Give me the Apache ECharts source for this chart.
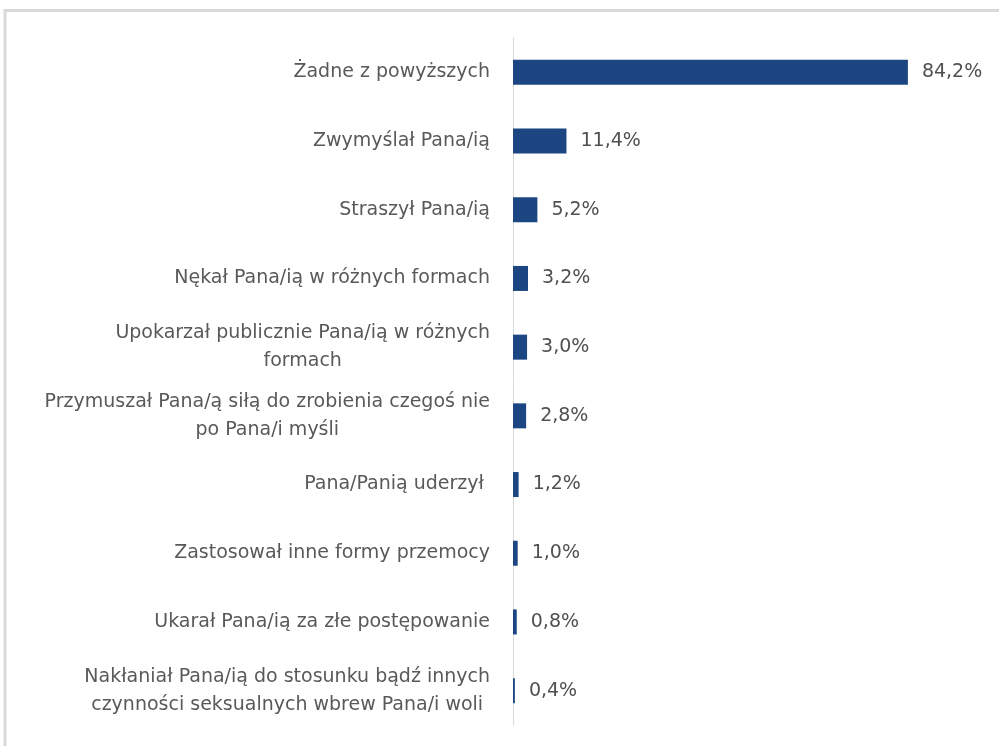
<!DOCTYPE html>
<html>
<head>
<meta charset="utf-8">
<script src="https://cdn.jsdelivr.net/npm/echarts@6/dist/echarts.min.js"></script>
<style>
  html, body { margin: 0; padding: 0; background: #fff; }
  #chart { width: 999px; height: 746px; }
</style>
</head>
<body>
<div id="chart"></div>
<script>
// categories top to bottom, wrapped the same way as in the source chart
const categories = [
  "Żadne z powyższych",
  "Zwymyślał Pana/ią",
  "Straszył Pana/ią",
  "Nękał Pana/ią w różnych formach",
  "Upokarzał publicznie Pana/ią w różnych\nformach",
  "Przymuszał Pana/ą siłą do zrobienia czegoś nie\npo Pana/i myśli",
  "Pana/Panią uderzył ",
  "Zastosował inne formy przemocy",
  "Ukarał Pana/ią za złe postępowanie",
  "Nakłaniał Pana/ią do stosunku bądź innych\nczynności seksualnych wbrew Pana/i woli"
];
const values = [84.2, 11.4, 5.2, 3.2, 3.0, 2.8, 1.2, 1.0, 0.8, 0.4];

const FONT = "'DejaVu Sans', sans-serif";
const chart = echarts.init(document.getElementById("chart"));

chart.setOption({
  animation: false,
  backgroundColor: "#fff",
  graphic: [{
    type: "rect",
    shape: { x: 5, y: 10.5, width: 1100, height: 800 },
    style: { fill: "none", stroke: "#d9d9d9", lineWidth: 3 },
    silent: true
  }],
  grid: { left: 513, right: 17, top: 38, bottom: 21 },
  xAxis: {
    type: "value",
    min: 0,
    max: 100,
    show: false
  },
  yAxis: {
    type: "category",
    inverse: true,
    data: categories,
    axisLine: { show: true, lineStyle: { color: "#d9d9d9", width: 1 } },
    axisTick: { show: false },
    axisLabel: {
      margin: 23,
      align: "right",
      fontFamily: FONT,
      fontSize: 19,
      color: "#595959",
      lineHeight: 28,
      formatter: (v) => v.split("\n").map((l) => "{c|" + l + "}").join("\n"),
      rich: {
        c: { align: "center", fontFamily: FONT, fontSize: 19, color: "#595959", lineHeight: 28 }
      }
    }
  },
  series: [{
    type: "bar",
    data: values,
    barWidth: 25,
    itemStyle: { color: "#1b4682" },
    label: {
      show: true,
      position: "right",
      distance: 14,
      fontFamily: FONT,
      fontSize: 19,
      color: "#505050",
      formatter: (p) => p.value.toFixed(1).replace(".", ",") + "%"
    }
  }]
});
</script>
</body>
</html>
